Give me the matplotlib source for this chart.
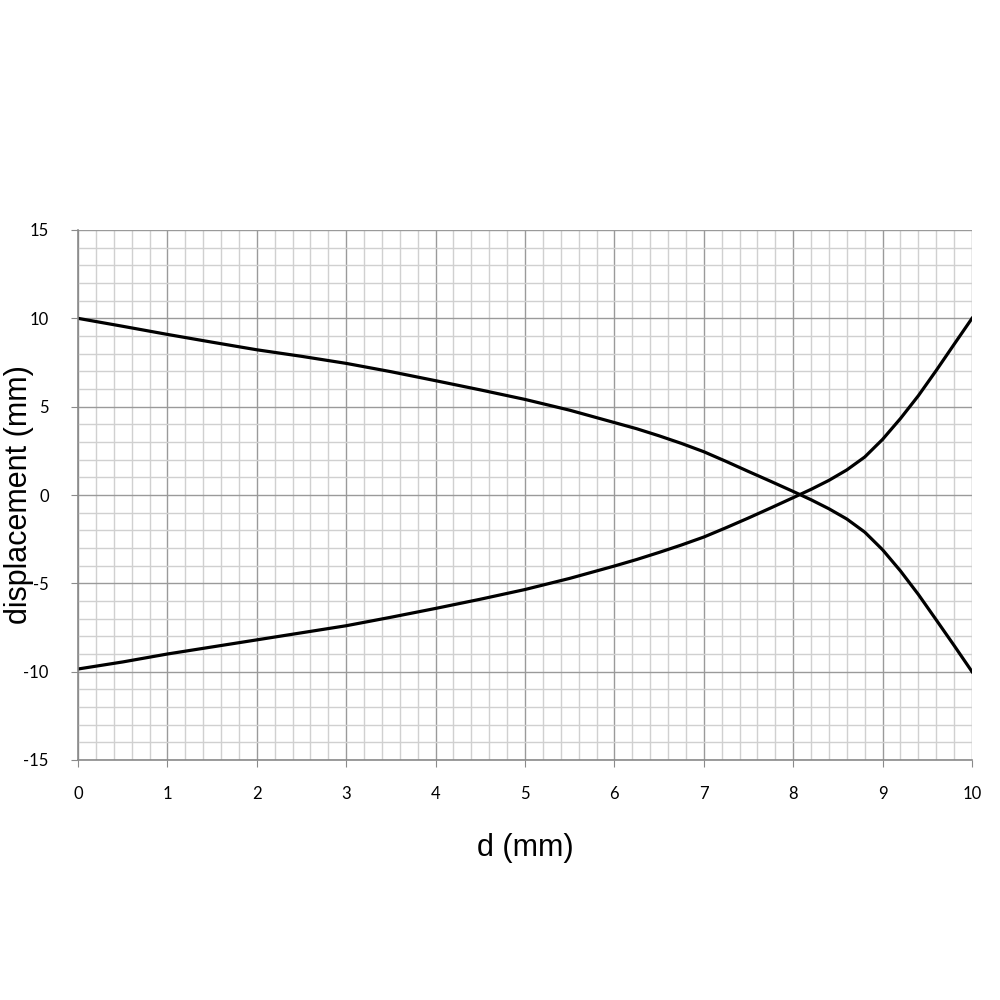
import matplotlib.pyplot as plt
import numpy as np

plt.rcParams["axes.unicode_minus"] = False

# values
d = [0, 0.5, 1, 1.5, 2, 2.5, 3, 3.5, 4, 4.5, 5, 5.5, 6, 6.25, 6.5, 6.75, 7,
     7.25, 7.5, 7.75, 8, 8.2, 8.4, 8.6, 8.8, 9.0, 9.2, 9.4, 9.6, 9.8, 10]
upper = [10.0, 9.55, 9.09, 8.65, 8.22, 7.85, 7.45, 6.98, 6.47, 5.95, 5.41, 4.8,
         4.1, 3.75, 3.35, 2.92, 2.45, 1.9, 1.33, 0.77, 0.2, -0.27, -0.78,
         -1.36, -2.1, -3.1, -4.3, -5.63, -7.07, -8.52, -10.0]
lower = [-9.85, -9.45, -9.0, -8.6, -8.2, -7.8, -7.4, -6.92, -6.42, -5.9, -5.35,
         -4.72, -4.02, -3.65, -3.25, -2.83, -2.38, -1.85, -1.3, -0.73, -0.15,
         0.32, 0.83, 1.42, 2.15, 3.15, 4.33, 5.62, 7.05, 8.53, 10.0]

xticks = list(range(0, 11))
yticks = [-15, -10, -5, 0, 5, 10, 15]

fig = plt.figure(figsize=(10, 10), dpi=100)
ax = fig.add_axes([0.078, 0.24, 0.894, 0.53])

ax.plot(d, upper, color="black", lw=2.3, solid_joinstyle="round")
ax.plot(d, lower, color="black", lw=2.3, solid_joinstyle="round")

ax.set_xlim(0, 10)
ax.set_ylim(-15, 15)
ax.set_xticks(xticks)
ax.set_yticks(yticks)
ax.set_xticks(np.arange(0, 10.01, 0.2), minor=True)
ax.set_yticks(np.arange(-15, 15.01, 1), minor=True)

ax.grid(which="major", color="#9a9a9a", lw=1.0)
ax.grid(which="minor", color="#d0d0d0", lw=1.0)
ax.set_axisbelow(True)

for s in ["top", "right"]:
    ax.spines[s].set_visible(False)
for s in ["left", "bottom"]:
    ax.spines[s].set_color("#8a8a8a")
    ax.spines[s].set_linewidth(1.2)

ax.tick_params(which="major", length=5, color="#8a8a8a", labelsize=12, pad=14)
ax.tick_params(axis="y", pad=16)
ax.tick_params(which="minor", length=0)
for lab in ax.get_xticklabels() + ax.get_yticklabels():
    lab.set_fontfamily("Lato")

ax.set_xlabel("d (mm)", fontsize=22, family="Liberation Sans", labelpad=22)
ax.set_ylabel("displacement (mm)", fontsize=22, family="Liberation Sans", va="center")
ax.yaxis.set_label_coords(-0.066, 0.5)

fig.savefig("out.png", dpi=100)
